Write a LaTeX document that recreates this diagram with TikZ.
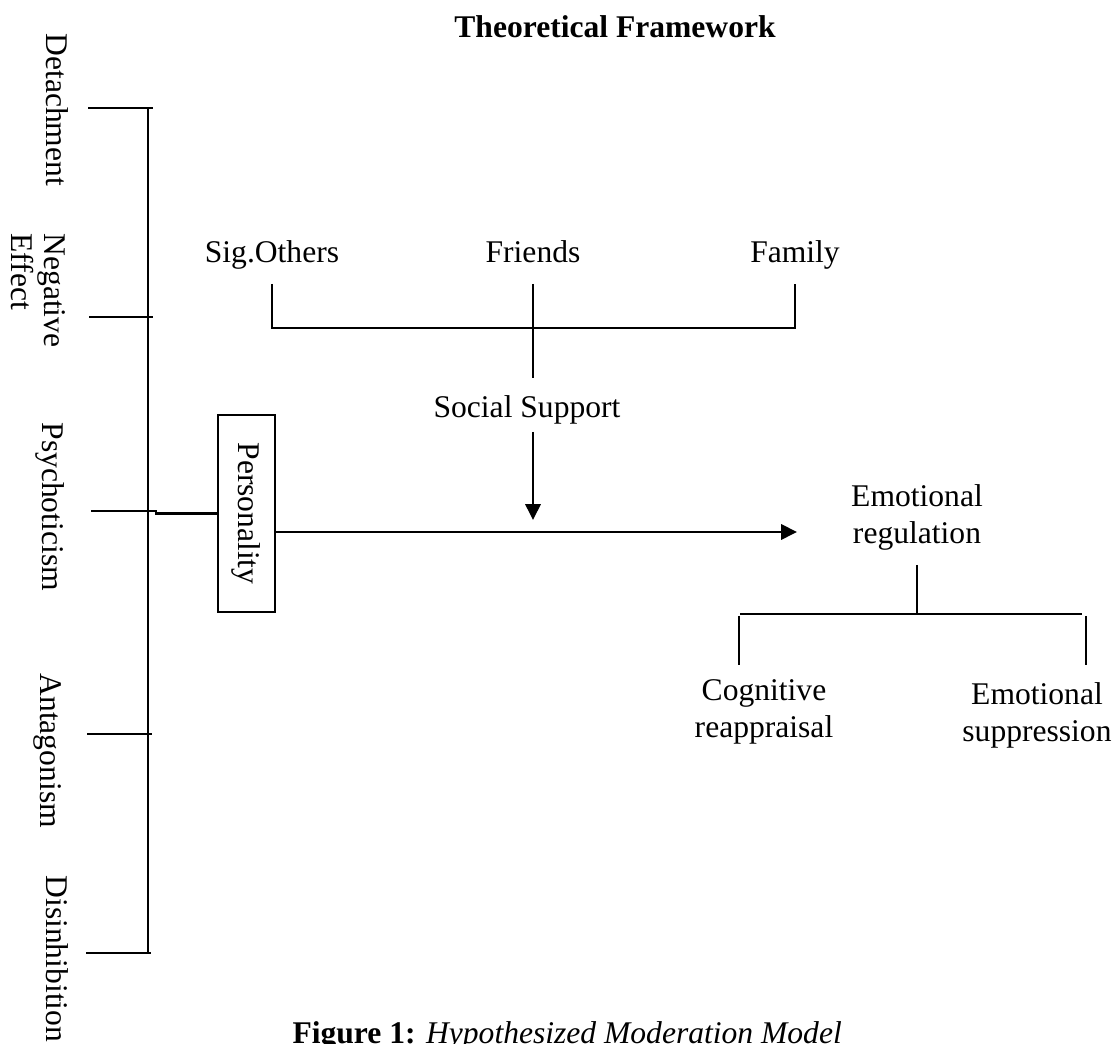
\documentclass[tikz,border=0pt]{standalone}
\usepackage{fontspec}
\setmainfont{Liberation Serif}
\usetikzlibrary{arrows.meta,calc}
\begin{document}
\begin{tikzpicture}[x={(0.38pt,0)}, y={(0,-0.38pt)},
  ln/.style={line width=0.8pt},
  lbl/.style={inner sep=0pt, font=\fontsize{12}{13.9}\selectfont},
  vlbl/.style={lbl, rotate=-90, anchor=base west},
  tip/.style={-{Triangle[length=6pt,width=5.8pt]}}]
\useasboundingbox (0,0) rectangle (1118,1044);

% title
\node[lbl, font=\fontsize{12}{14}\selectfont\bfseries, anchor=base] (title) at (615,38) {Theoretical Framework};

% rotated trait labels
\node[vlbl] (det) at (46,33) {Detachment};
\node[lbl, rotate=-90, anchor=north west, align=left] (neg) at (66,233) {Negative\\[-1.2pt]Effect};
\node[vlbl] (psy) at (42,422) {Psychoticism};
\node[vlbl] (ant) at (41,673) {Antagonism};
\node[vlbl] (dis) at (46,875) {Disinhibition};

% left bracket
\coordinate (sT) at (148,108);
\coordinate (sB) at (148,953);
\draw[ln] (sT) -- (sB);
\foreach \yy/\aa/\bb in {108/88/153, 317/89/153, 734/87/152, 953/86/151}
  \draw[ln] (\aa,\yy) -- (\bb,\yy);

% personality box
\node[draw, line width=0.6pt, rotate=-90, minimum width=74.9pt, minimum height=21.7pt,
      inner sep=0pt, font=\fontsize{12}{13.9}\selectfont] (pers) at (246.5,513.5) {Personality};
\coordinate (pk) at (156,511);
\draw[ln] (91,511) -- (pk) -- (pk |- pers.south) -- (pers.south);

% main arrow
\coordinate (aend) at (797,532);
\draw[ln, tip] (pers.north |- aend) -- (aend);

% social support
\node[lbl, anchor=base] (so) at (272,263) {Sig.Others};
\node[lbl, anchor=base] (fr) at (533,263) {Friends};
\node[lbl, anchor=base] (fa) at (795,263) {Family};
\coordinate (bt) at (0,284);
\coordinate (bb) at (0,328);
\draw[ln] (so |- bt) -- (so |- bb) -- (fa |- bb) -- (fa |- bt);
\node[lbl, anchor=base] (ss) at (527,418) {Social Support};
\coordinate (ssA) at (533,378);
\coordinate (ssB) at (533,432);
\coordinate (ssT) at (533,520);
\draw[ln] (fr |- bt) -- (ssA);
\draw[ln, tip] (ssB) -- (ssT);

% emotional regulation
\node[lbl, align=center, anchor=north] (er) at (917,484) {Emotional\\regulation};
\coordinate (erb) at (917,565);
\coordinate (bl) at (740,614);
\coordinate (br) at (1082,614);
\draw[ln] (erb) -- (erb |- bl);
\draw[ln] (bl) -- (br);
\node[lbl, align=center, anchor=north] (cr) at (764,679) {Cognitive\\reappraisal};
\node[lbl, align=center, anchor=north] (es) at (1037,682) {Emotional\\suppression};
\coordinate (crt) at (739,616);
\coordinate (crb) at (739,665);
\coordinate (est) at (1086,616);
\coordinate (esb) at (1086,665);
\draw[ln] (crt) -- (crb);
\draw[ln] (est) -- (esb);

% caption
\node[lbl, anchor=base west] (cap) at (292,1043) {\textbf{Figure 1:} \textit{Hypothesized Moderation Model}};
\end{tikzpicture}
\end{document}
